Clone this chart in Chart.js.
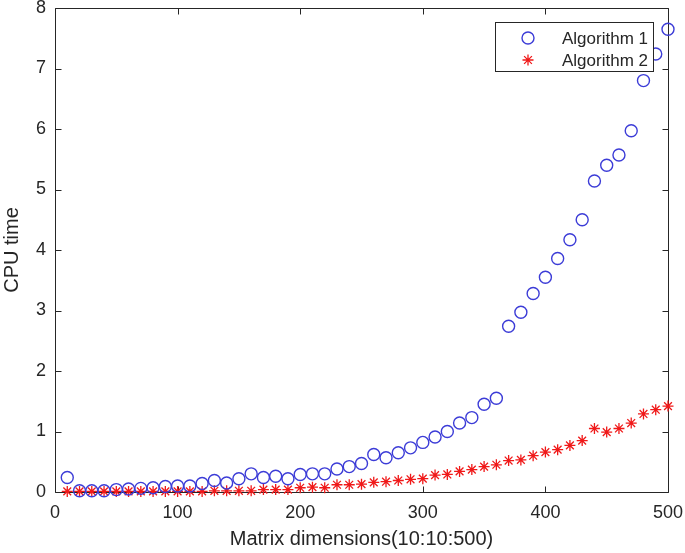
<!DOCTYPE html>
<html>
<head>
<meta charset="utf-8">
<script src="https://cdn.jsdelivr.net/npm/chart.js@4/dist/chart.umd.min.js"></script>
<style>
html,body{margin:0;padding:0;background:#fff;}
canvas{display:block;}
</style>
</head>
<body>
<canvas id="c" width="685" height="553"></canvas>
<script>
const dims = [10,20,30,40,50,60,70,80,90,100,110,120,130,140,150,160,170,180,190,200,
  210,220,230,240,250,260,270,280,290,300,310,320,330,340,350,360,370,380,390,400,
  410,420,430,440,450,460,470,480,490,500];
const algorithm1 = [0.24,0.02,0.02,0.02,0.04,0.05,0.06,0.07,0.09,0.10,
  0.10,0.14,0.19,0.15,0.22,0.30,0.24,0.26,0.22,0.29,
  0.30,0.30,0.38,0.42,0.47,0.62,0.565,0.65,0.73,0.82,
  0.91,1.00,1.14,1.23,1.45,1.55,2.74,2.97,3.28,3.55,
  3.86,4.17,4.50,5.14,5.40,5.57,5.97,6.80,7.24,7.65];
const algorithm2 = [0.01,0.01,0.01,0.01,0.01,0.01,0.01,0.01,0.01,0.01,
  0.01,0.01,0.02,0.02,0.02,0.02,0.04,0.04,0.04,0.07,
  0.08,0.07,0.12,0.12,0.13,0.16,0.17,0.19,0.21,0.22,
  0.28,0.29,0.34,0.37,0.42,0.45,0.52,0.53,0.60,0.66,
  0.70,0.77,0.85,1.05,0.99,1.05,1.14,1.29,1.36,1.42];
const seriesNames = ['Algorithm 1','Algorithm 2'];
const xTicks = [0,100,200,300,400,500];
const yTicks = [0,1,2,3,4,5,6,7,8];
const xTitle = 'Matrix dimensions(10:10:500)';
const yTitle = 'CPU time';

const INK = '#262626';
const FONT = '"Liberation Sans", Arial, sans-serif';

const framePlugin = {
  id: 'frame',
  beforeDatasetsDraw(chart) {
    const {ctx, chartArea: a, scales: {x, y}} = chart;
    ctx.save();
    ctx.strokeStyle = INK;
    ctx.lineWidth = 1;
    const L = Math.round(a.left) + 0.5, R = Math.round(a.right) + 0.5;
    const T = Math.round(a.top) + 0.5, B = Math.round(a.bottom) + 0.5;
    ctx.beginPath();
    ctx.rect(L, T, R - L, B - T);
    const tl = 6;
    xTicks.forEach(v => {
      const px = Math.round(x.getPixelForValue(v)) + 0.5;
      ctx.moveTo(px, B); ctx.lineTo(px, B - tl);
      ctx.moveTo(px, T); ctx.lineTo(px, T + tl);
    });
    yTicks.forEach(v => {
      const py = Math.round(y.getPixelForValue(v)) + 0.5;
      ctx.moveTo(L, py); ctx.lineTo(L + tl, py);
      ctx.moveTo(R, py); ctx.lineTo(R - tl, py);
    });
    ctx.stroke();
    ctx.restore();
  },
  afterDraw(chart) {
    const {ctx} = chart;
    const bx = 495.5, by = 22.5, bw = 158, bh = 49;
    ctx.save();
    ctx.fillStyle = '#fff';
    ctx.fillRect(bx, by, bw, bh);
    ctx.strokeStyle = INK;
    ctx.lineWidth = 1;
    ctx.strokeRect(bx, by, bw, bh);
    ctx.font = '17px ' + FONT;
    ctx.fillStyle = INK;
    ctx.textBaseline = 'middle';
    ctx.textAlign = 'left';
    chart.data.datasets.forEach((ds, i) => {
      const cy = by + 15.5 + i * 22;
      ctx.strokeStyle = ds.borderColor;
      ctx.fillStyle = 'rgba(0,0,0,0)';
      ctx.lineWidth = ds.borderWidth;
      Chart.helpers.drawPoint(ctx, {pointStyle: ds.pointStyle, radius: ds.pointRadius, borderWidth: ds.borderWidth, rotation: 0}, 528, cy);
      ctx.fillStyle = INK;
      ctx.fillText(ds.label, 562, cy + 1);
    });
    ctx.restore();
  }
};

new Chart(document.getElementById('c'), {
  type: 'scatter',
  data: {
    datasets: [
      {
        label: seriesNames[0],
        data: dims.map((d, i) => ({x: d, y: algorithm1[i]})),
        pointStyle: 'circle',
        pointRadius: 6,
        pointHoverRadius: 6,
        borderColor: 'rgb(60,60,215)',
        backgroundColor: 'rgba(0,0,0,0)',
        borderWidth: 1.4,
        clip: false
      },
      {
        label: seriesNames[1],
        data: dims.map((d, i) => ({x: d, y: algorithm2[i]})),
        pointStyle: 'star',
        pointRadius: 5.5,
        pointHoverRadius: 5.5,
        borderColor: 'rgb(240,25,25)',
        backgroundColor: 'rgba(0,0,0,0)',
        borderWidth: 1.3,
        clip: false
      }
    ]
  },
  options: {
    responsive: false,
    animation: false,
    devicePixelRatio: 1,
    layout: {padding: {top: 8, right: 17, left: 0, bottom: 0}},
    plugins: {legend: {display: false}, tooltip: {enabled: false}},
    scales: {
      x: {
        type: 'linear', min: 0, max: 500,
        afterFit(s) { s.height = 61; s.paddingLeft = 0; s.paddingRight = 0; },
        afterBuildTicks(s) { s.ticks = xTicks.map(v => ({value: v})); },
        grid: {display: false, drawTicks: false},
        border: {display: false},
        ticks: {color: INK, font: {family: FONT, size: 18}, padding: 10, maxRotation: 0, autoSkip: false},
        title: {display: true, text: xTitle, color: INK, font: {family: FONT, size: 20}, padding: {top: 0, bottom: 2}}
      },
      y: {
        type: 'linear', min: 0, max: 8,
        afterFit(s) { s.width = 55; s.paddingTop = 0; s.paddingBottom = 0; },
        afterBuildTicks(s) { s.ticks = yTicks.map(v => ({value: v})); },
        grid: {display: false, drawTicks: false},
        border: {display: false},
        ticks: {color: INK, font: {family: FONT, size: 18}, padding: 9, autoSkip: false},
        title: {display: true, text: yTitle, color: INK, font: {family: FONT, size: 20}, padding: {top: 0, bottom: 0}}
      }
    }
  },
  plugins: [framePlugin]
});
</script>
</body>
</html>
